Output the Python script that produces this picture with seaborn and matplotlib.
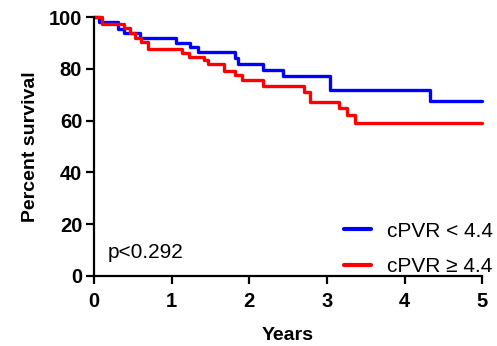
import numpy as np
import pandas as pd
import matplotlib
matplotlib.use("Agg")
import matplotlib.pyplot as plt
import seaborn as sns

# Kaplan-Meier step data
blue_label = "cPVR < 4.4"
red_label = "cPVR \u2265 4.4"
blue_time = [0, 0.06, 0.31, 0.38, 0.59, 1.05, 1.24, 1.34, 1.82, 1.86, 2.18, 2.43, 3.04, 4.33, 5.0]
blue_surv = [100, 98.3, 95.5, 93.8, 91.9, 90.2, 88.5, 86.5, 84.1, 82.0, 79.8, 77.3, 71.8, 67.6, 67.6]
red_time = [0, 0.10, 0.38, 0.46, 0.53, 0.61, 0.70, 1.13, 1.22, 1.41, 1.47, 1.67, 1.82, 1.90,
            2.18, 2.70, 2.78, 3.15, 3.26, 3.36, 5.0]
red_surv = [100, 97.5, 95.7, 93.8, 91.9, 90.6, 87.8, 86.1, 84.8, 83.5, 82.0, 79.3, 77.7, 75.8,
            73.4, 71.2, 67.4, 65.0, 62.2, 59.0, 59.0]
x_ticks = [0, 1, 2, 3, 4, 5]
y_ticks = [0, 20, 40, 60, 80, 100]
p_text = "p<0.292"

df = pd.DataFrame({
    "time": blue_time + red_time,
    "survival": blue_surv + red_surv,
    "group": [blue_label] * len(blue_time) + [red_label] * len(red_time),
})

sns.set_theme(style="ticks")
plt.rcParams["font.family"] = ["Liberation Sans", "DejaVu Sans"]
plt.rcParams["text.color"] = "black"
plt.rcParams["axes.labelcolor"] = "black"

fig = plt.figure(figsize=(4.97, 3.46), dpi=100)
ax = fig.add_axes([94 / 497, 1 - 275.8 / 346, (482.3 - 94) / 497, (275.8 - 17.3) / 346])

sns.lineplot(data=df, x="time", y="survival", hue="group", estimator=None, sort=False,
             drawstyle="steps-post", palette={blue_label: "#0000ff", red_label: "#ff0000"},
             linewidth=2.4, ax=ax, clip_on=False)

ax.set_xlim(0, 5)
ax.set_ylim(0, 100)
ax.set_xticks(x_ticks)
ax.set_yticks(y_ticks)
ax.set_xticklabels([str(t) for t in x_ticks], fontweight="bold", fontsize=14.5)
ax.set_yticklabels([str(t) for t in y_ticks], fontweight="bold", fontsize=14.5)
for side in ["top", "right"]:
    ax.spines[side].set_visible(False)
for side in ["left", "bottom"]:
    ax.spines[side].set_linewidth(1.6)
    ax.spines[side].set_color("black")
ax.tick_params(axis="both", length=5.5, width=1.6, color="black", labelcolor="black")
ax.tick_params(axis="x", pad=6)
ax.tick_params(axis="y", pad=3)

ax.set_xlabel("Years", fontweight="bold", fontsize=14, labelpad=12, color="black")
ax.set_ylabel("Percent survival", fontweight="bold", fontsize=14, labelpad=7, color="black")

ax.text(0.18, 6.9, p_text, fontsize=15, va="baseline", ha="left", color="black")

leg = ax.legend(loc="lower right", bbox_to_anchor=(1.075, -0.075), frameon=False,
                fontsize=15, handlelength=1.3, handletextpad=0.75, labelspacing=0.8)
for line in leg.get_lines():
    line.set_linewidth(3)
for t in leg.get_texts():
    t.set_color("black")

fig.savefig("out.png", dpi=100, facecolor="white")
